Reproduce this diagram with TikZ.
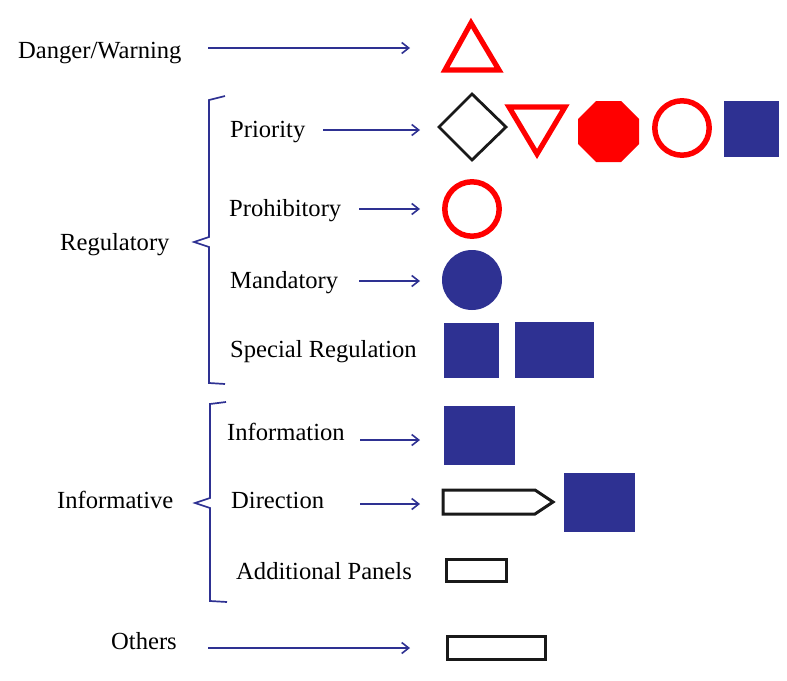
\documentclass[tikz,border=0pt]{standalone}
\usepackage{fontspec}
\setmainfont{Liberation Serif}
\usetikzlibrary{arrows.meta}
\definecolor{navy}{HTML}{2E3192}
\definecolor{signred}{HTML}{FF0000}
\tikzset{
  lbl/.style={anchor=base west, inner sep=0pt, font=\fontsize{24.6}{28}\selectfont},
  conn/.style={draw=navy, line width=1.7pt, -{Straight Barb[length=7pt,width=11pt,line width=1.6pt]}},
  brace/.style={draw=navy, line width=1.7pt, line join=miter},
  redline/.style={draw=signred, line width=5.2pt, line join=miter},
  blackline/.style={draw=black!90, line width=2.8pt, line join=miter},
  bluefill/.style={fill=navy, draw=none}
}
\begin{document}
\begin{tikzpicture}[x=1pt,y=-1pt]
\useasboundingbox (0,0) rectangle (787,680);

% labels
\node[lbl] (danger) at (18,58) {Danger/Warning};
\node[lbl] (regul) at (60,250) {Regulatory};
\node[lbl] (prio) at (230,137) {Priority};
\node[lbl] (prohib) at (229,216) {Prohibitory};
\node[lbl] (mand) at (230,288) {Mandatory};
\node[lbl] (special) at (230,357) {Special Regulation};
\node[lbl] (inform) at (57,508) {Informative};
\node[lbl] (info) at (227,440) {Information};
\node[lbl] (dir) at (231,508) {Direction};
\node[lbl] (addp) at (236,579) {Additional Panels};
\node[lbl] (others) at (111,649) {Others};

% arrow endpoints
\coordinate (d1) at (208,48);  \coordinate (d2) at (410,48);
\coordinate (p1) at (323,130); \coordinate (p2) at (420,130);
\coordinate (h1) at (359,209); \coordinate (h2) at (420,209);
\coordinate (m1) at (359,281); \coordinate (m2) at (420,281);
\coordinate (i1) at (360,440); \coordinate (i2) at (420,440);
\coordinate (r1) at (360,504); \coordinate (r2) at (420,504);
\coordinate (o1) at (208,648); \coordinate (o2) at (410,648);
\draw[conn] (d1) -- (d2);
\draw[conn] (p1) -- (p2);
\draw[conn] (h1) -- (h2);
\draw[conn] (m1) -- (m2);
\draw[conn] (i1) -- (i2);
\draw[conn] (r1) -- (r2);
\draw[conn] (o1) -- (o2);

% braces
\draw[brace] (225,96) -- (209,100) -- (209,237) -- (194,242) -- (209,247) -- (209,383) -- (225,384);
\draw[brace] (226,402) -- (210,404) -- (210,498) -- (195,503) -- (210,508) -- (210,601) -- (227,602);

% danger triangle
\draw[redline] (471,23) -- (445,70) -- (499,70) -- cycle;

% priority row
\draw[blackline] (439,127) -- (472,94) -- (506,127) -- (472,160) -- cycle;
\draw[redline] (509,107) -- (565,107) -- (537,154) -- cycle;
\fill[signred] (596,101) -- (621,101) -- (639,119) -- (639,144) -- (621,162) -- (596,162) -- (578,144) -- (578,119) -- cycle;
\draw[redline, line width=5.5pt] (682,128) circle (27.2);
\fill[bluefill] (724,101) rectangle (779,157);

% prohibitory
\draw[redline, line width=5.5pt] (472,209) circle (27.2);
% mandatory
\fill[bluefill] (472,280) circle (30);
% special regulation
\fill[bluefill] (444,323) rectangle (499,378);
\fill[bluefill] (515,322) rectangle (594,378);
% information
\fill[bluefill] (444,406) rectangle (515,465);
% direction
\draw[blackline, line width=3pt] (443,490) -- (535,490) -- (553,502) -- (535,514) -- (443,514) -- cycle;
\fill[bluefill] (564,473) rectangle (635,532);
% additional panels
\draw[blackline, line width=3pt] (446,559) rectangle (506,581);
% others
\draw[blackline, line width=3pt] (447,636) rectangle (545,659);
\end{tikzpicture}
\end{document}
